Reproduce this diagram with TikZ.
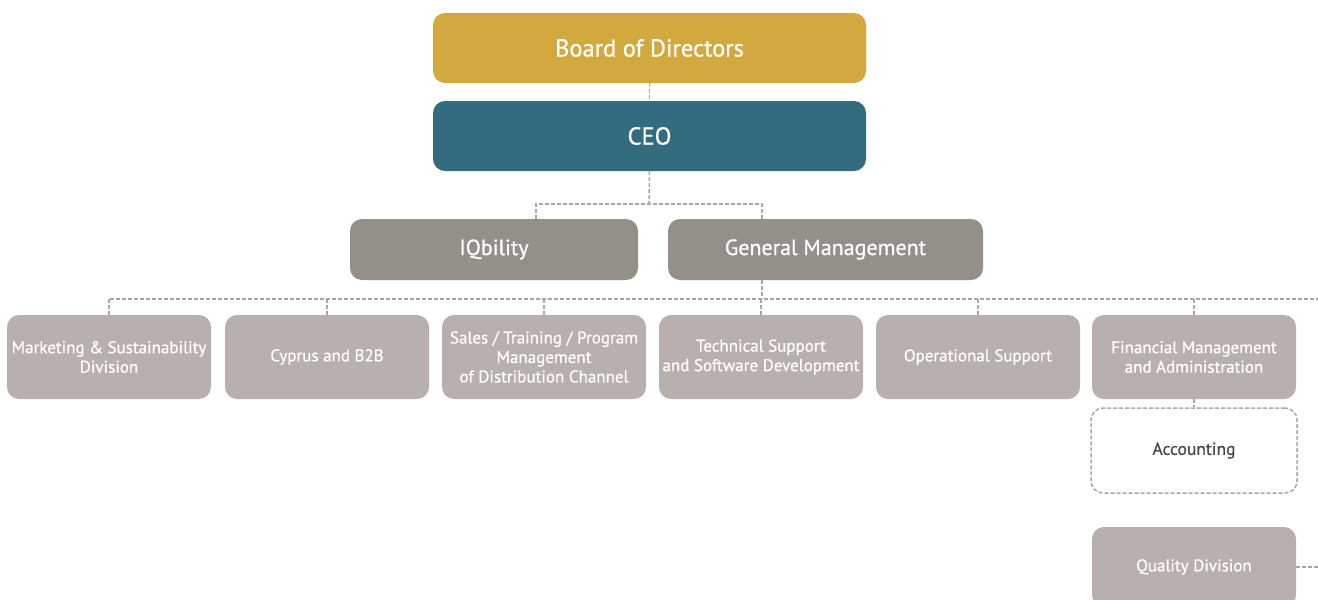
\documentclass[tikz,border=0pt]{standalone}
\usepackage{fontspec}
\setmainfont{PT Sans}
\newfontfamily\medfont{PT Sans}[FakeBold=0.7]
\definecolor{gold}{HTML}{D2A93E}
\definecolor{teal}{HTML}{336B7F}
\definecolor{darkgrey}{HTML}{958F8A}
\definecolor{lightgrey}{HTML}{B8B0AC}
\definecolor{linegrey}{HTML}{ABA7A7}
\definecolor{textdark}{HTML}{4A4A4A}
\tikzset{
  box/.style={rectangle, rounded corners=12pt, draw=none, text=white, align=center, inner sep=0pt},
  topbox/.style={box, minimum width=433pt, minimum height=70pt, font=\medfont\fontsize{24.5}{28}\selectfont},
  midbox/.style={box, fill=darkgrey, minimum height=61pt, font=\medfont\fontsize{22}{25}\selectfont},
  rowbox/.style={box, fill=lightgrey, minimum width=204pt, minimum height=84pt, font=\medfont\fontsize{17}{19.5}\selectfont},
  dashbox/.style={box, fill=white, draw=linegrey, line width=1.5pt, dash pattern=on 4pt off 2pt, text=textdark, minimum width=206pt, minimum height=85pt, font=\medfont\fontsize{17.5}{19.5}\selectfont},
  conn/.style={draw=linegrey, line width=1.5pt, dash pattern=on 4pt off 2pt}
}
\begin{document}
\begin{tikzpicture}[x=1pt,y=-1pt]
\useasboundingbox (0,0) rectangle (1318,600);
\clip (0,0) rectangle (1318,600);
\node[topbox, fill=gold] (board) at (649.5,48) {Board of Directors};
\node[topbox, fill=teal] (ceo) at (649.5,136) {CEO};
\node[midbox, minimum width=288pt] (iq) at (494,249.5) {IQbility};
\node[midbox, minimum width=315pt] (gm) at (825.5,249.5) {General Management};
\node[rowbox] (r1) at (109,357) {Marketing \& Sustainability\\Division};
\node[rowbox] (r2) at (327,357) {Cyprus and B2B};
\node[rowbox] (r3) at (544,357) {Sales / Training / Program\\Management\\of Distribution Channel};
\node[rowbox] (r4) at (761,357) {Technical Support\\and Software Development};
\node[rowbox] (r5) at (978,357) {Operational Support};
\node[rowbox] (r6) at (1194,357) {Financial Management\\and Administration};
\node[dashbox] (acc) at (1194,450.5) {Accounting};
\node[rowbox, minimum height=80pt] (qd) at (1194,567) {Quality Division};
\coordinate (b1) at (649,204);
\coordinate (bus) at (110,299);
\coordinate (busend) at (1318,299);
\coordinate (qend) at (1318,567);
\draw[conn] (board) -- (ceo);
\draw[conn] (ceo.south) -- (b1);
\draw[conn] ([xshift=42pt]iq.north) |- (b1) -| ([xshift=-63.5pt]gm.north);
\draw[conn] ([xshift=-63.5pt]gm.south) -- ([xshift=-63.5pt]gm.south |- bus);
\draw[conn] (bus) -- (busend);
\foreach \r in {r1,r2,r3,r4,r5,r6} {
  \draw[conn] (\r.north) -- (\r.north |- bus);
}
\draw[conn] (r6.south) -- (acc.north);
\draw[conn] (qd.east) -- (qend);
\end{tikzpicture}
\end{document}
